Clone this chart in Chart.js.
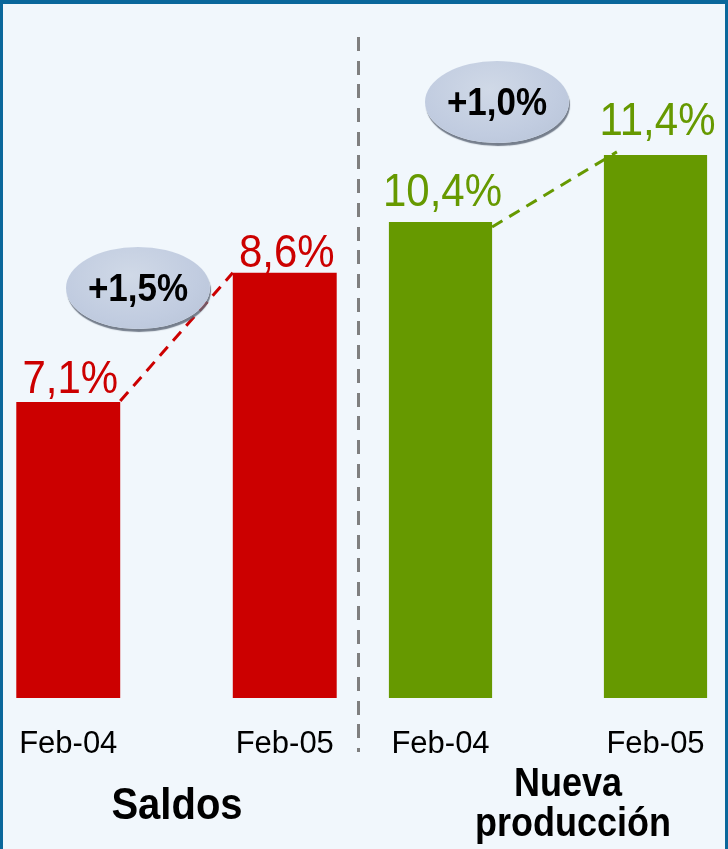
<!DOCTYPE html>
<html>
  <head>
    <title>Saldos / Nueva producción</title>
    <script src="https://cdn.jsdelivr.net/npm/chart.js@4.4.0/dist/chart.umd.min.js"></script>
    <style>
      html, body { margin: 0; padding: 0; }
      body { width: 728px; height: 849px; overflow: hidden; position: relative; background: #f1f7fc; font-family: "Liberation Sans", Arial, sans-serif; }
      #frame { position: absolute; left: 0; top: 0; width: 722px; height: 849px; border-top: 4px solid #0a679b; border-left: 3px solid #0a679b; border-right: 3px solid #0a679b; box-sizing: content-box; z-index: 5; pointer-events: none; }
      canvas { position: absolute; top: 0; }
      #leftChart { left: -40px; }
      #rightChart { left: 333px; }
      #sep { position: absolute; left: 357px; top: 37px; width: 3px; height: 715px;
             background: repeating-linear-gradient(to bottom, #7f7f7f 0 14px, transparent 14px 23.7px); }
      .group { position: absolute; font-weight: bold; color: #000; line-height: 1; white-space: nowrap;
               transform: translateX(-50%) scaleY(1.12); transform-origin: 50% 85%; }
      .bubble { position: absolute; width: 144px; height: 82px; border-radius: 50%; transform: translate(-50%, -50%);
                background: radial-gradient(ellipse at 45% 35%, #d0d9e7 0%, #c1cce0 60%, #b6c2d6 100%);
                box-shadow: 1px 3px 1px rgba(95, 104, 120, 0.85);
                display: flex; align-items: center; justify-content: center;
                font-weight: bold; font-size: 35px; color: #000; z-index: 3; }
      .bubble span { display: inline-block; transform: scaleY(1.12); }
    </style>
  </head>
  <body>
    <div id="frame"></div>
    <div id="sep"></div>

    <!-- The two panels -->
    <canvas id="leftChart" width="433" height="849"></canvas>
    <canvas id="rightChart" width="430" height="849"></canvas>

    <!-- Group titles and change bubbles -->
    <div class="group" id="g0" style="left:177px; top:785px; font-size:40px;"></div>
    <div class="group" id="g1a" style="left:568px; top:766px; font-size:36px;"></div>
    <div class="group" id="g1b" style="left:573px; top:806px; font-size:36px;"></div>
    <div class="bubble" style="left:138px; top:288px;"><span id="b0"></span></div>
    <div class="bubble" style="left:497px; top:102px;"><span id="b1"></span></div>

    <script>
      // Data
      const periods = ["Feb-04", "Feb-05"];
      const groups = ["Saldos", "Nueva producción"];
      const saldos = [7.1, 8.6];
      const nuevaProduccion = [10.4, 11.4];

      const RED = "#cc0000";
      const GREEN = "#669900";

      const fmt = v => v.toFixed(1).replace(".", ",") + "%";
      const diff = arr => "+" + (arr[1] - arr[0]).toFixed(1).replace(".", ",") + "%";

      document.getElementById("g0").textContent = groups[0];
      document.getElementById("g1a").textContent = groups[1].split(" ")[0];
      document.getElementById("g1b").textContent = groups[1].split(" ")[1];
      document.getElementById("b0").textContent = diff(saldos);
      document.getElementById("b1").textContent = diff(nuevaProduccion);

      // Value labels above bars and dashed connector between the two bars
      const decorate = {
        id: "decorate",
        afterDatasetsDraw(chart, args, opts) {
          const ctx = chart.ctx;
          const bars = chart.getDatasetMeta(0).data;
          const values = chart.data.datasets[0].data;
          const a = bars[0], b = bars[1];

          ctx.save();
          ctx.strokeStyle = opts.color;
          ctx.lineWidth = 3;
          ctx.setLineDash([12, 8]);
          ctx.beginPath();
          ctx.moveTo(a.x + a.width / 2 + opts.from[0], a.y + opts.from[1]);
          ctx.lineTo(b.x - b.width / 2 + opts.to[0], b.y + opts.to[1]);
          ctx.stroke();
          ctx.restore();

          ctx.fillStyle = opts.color;
          ctx.font = "42px 'Liberation Sans', Arial, sans-serif";
          ctx.textAlign = "center";
          ctx.textBaseline = "alphabetic";
          bars.forEach((bar, i) => {
            ctx.save();
            ctx.translate(bar.x + 2, bar.y - opts.gap[i]);
            ctx.scale(1, 1.12);   // the original lettering is a bit stretched
            ctx.fillText(fmt(values[i]), 0, 0);
            ctx.restore();
          });
        }
      };

      function makeChart(id, values, color, yMin, yMax, deco) {
        return new Chart(document.getElementById(id), {
          type: "bar",
          data: {
            labels: periods,
            datasets: [{
              data: values,
              backgroundColor: color,
              borderWidth: 0,
              categoryPercentage: 1,
              barPercentage: 0.48
            }]
          },
          options: {
            responsive: false,
            animation: false,
            layout: { padding: 0 },
            plugins: {
              legend: { display: false },
              tooltip: { enabled: false },
              decorate: deco
            },
            scales: {
              x: {
                grid: { display: false, drawTicks: false },
                border: { display: false },
                ticks: { color: "#000", padding: 28, font: { family: "'Liberation Sans', Arial, sans-serif", size: 31 } },
                afterFit: s => { s.height = 151; }
              },
              y: { display: false, min: yMin, max: yMax }
            }
          },
          plugins: [decorate]
        });
      }

      makeChart("leftChart", saldos, RED, 3.66, 11.77,
        { color: RED, gap: [9, 6], from: [0, -1], to: [0, 0] });
      makeChart("rightChart", nuevaProduccion, GREEN, 3.3, 13.71,
        { color: GREEN, gap: [16, 20], from: [0, 5], to: [13, -3] });
    </script>
  </body>
</html>
